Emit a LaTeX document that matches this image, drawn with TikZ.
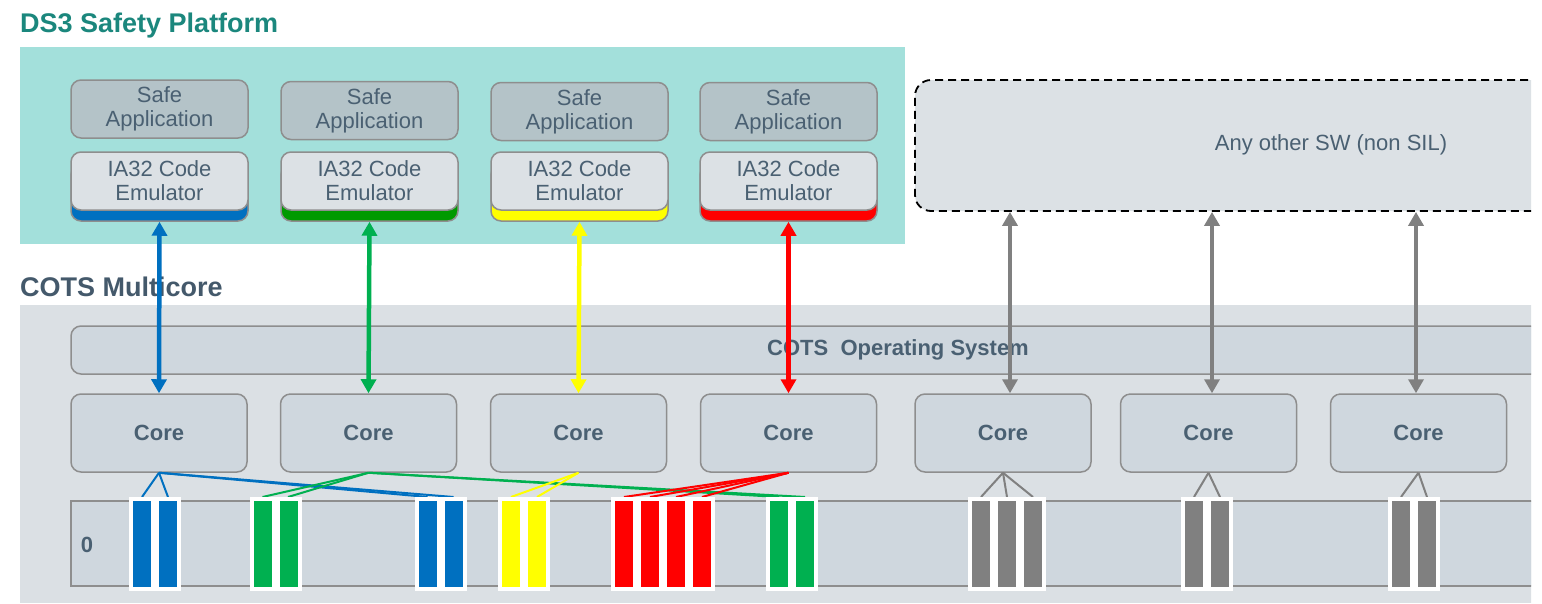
\documentclass[tikz,border=0pt]{standalone}
\usepackage{fontspec}
\setmainfont{Liberation Sans}
\usetikzlibrary{arrows.meta}
\definecolor{tealtitle}{HTML}{1B877D}
\definecolor{slatetitle}{HTML}{44596B}
\definecolor{tealbg}{HTML}{A3E0DB}
\definecolor{safefill}{HTML}{B4C3C8}
\definecolor{emufill}{HTML}{DCE1E5}
\definecolor{graybg}{HTML}{DBE0E4}
\definecolor{corefill}{HTML}{CFD7DE}
\definecolor{boxline}{HTML}{8E8E8E}
\definecolor{txt}{HTML}{4A6072}
\definecolor{cblue}{HTML}{0070C0}
\definecolor{cgreen}{HTML}{00B050}
\definecolor{cdgreen}{HTML}{009A00}
\definecolor{cyellow}{HTML}{FFFF00}
\definecolor{cred}{HTML}{FF0000}
\definecolor{cgray}{HTML}{808080}
\tikzset{
  box/.style={draw=boxline, line width=1.5pt, rounded corners=10pt, inner sep=0pt, text=txt,
    font=\fontsize{22}{24}\selectfont, align=center},
  safebox/.style={box, fill=safefill, minimum width=177pt, minimum height=58pt},
  emubox/.style={box, fill=emufill, minimum width=177pt, minimum height=58pt},
  bandbox/.style={box, minimum width=177pt, minimum height=56pt},
  corebox/.style={box, fill=corefill, minimum width=176pt, minimum height=78pt,
    font=\bfseries\fontsize{22}{24}\selectfont},
  barbox/.style={draw=white, line width=4pt, minimum width=22pt, minimum height=90pt, inner sep=0pt},
  link/.style={line width=2pt},
  biarrow/.style={arrows={Triangle[length=14pt,width=15pt]-Triangle[length=14pt,width=15pt]}, line width=4.5pt},
  title/.style={anchor=base west, font=\bfseries\fontsize{27}{29}\selectfont, inner sep=0pt}
}
\begin{document}
\begin{tikzpicture}[x=1pt,y=-1pt]
\useasboundingbox[fill=white] (0,0) rectangle (1542,603);
\begin{scope}
\clip (0,0) rectangle (1531,603);

% titles
\node[title, text=tealtitle] (t1) at (20,32) {DS3 Safety Platform};
\node[title, text=slatetitle] (t2) at (20,296) {COTS Multicore};

% teal platform
\fill[tealbg] (20,47) rectangle (905,244);

% safe application + emulator stacks
\foreach \i/\x/\y/\c in {1/159.5/109/cblue, 2/369.5/110.5/cdgreen, 3/579.5/111.5/cyellow, 4/788.5/111.5/cred}{
  \node[safebox] (sa\i) at (\x,\y) {Safe\\Application};
  \node[bandbox, fill=\c] (band\i) at (\x,193) {};
  \node[emubox] (em\i) at (\x,181) {IA32 Code\\Emulator};
}

% non-SIL software box
\node[box, fill=emufill, draw=black, line width=1.8pt, dash pattern=on 8pt off 5pt,
  minimum width=785pt, minimum height=131pt, rounded corners=16pt] (other) at (1307.5,145.5) {};
\node[text=txt, font=\fontsize{22}{24}\selectfont] (othertext) at (1331,145) {Any other SW (non SIL)};

% multicore region
\fill[graybg] (20,305) rectangle (1600,603);
\node[box, fill=corefill, minimum width=1629pt, minimum height=48pt] (os) at (885.5,350) {};
\node[text=txt, font=\bfseries\fontsize{22}{24}\selectfont] (ostext) at (898,350) {COTS\ \ Operating System};

% cores
\foreach \i/\x in {1/159, 2/368.5, 3/578.5, 4/788.5, 5/1003, 6/1208.5, 7/1418.5}{
  \node[corebox] (core\i) at (\x,433) {Core};
}

% memory row
\node[draw=boxline, line width=1.5pt, fill=corefill, minimum width=1629pt, minimum height=85pt,
  inner sep=0pt] (mem) at (885.5,543.5) {};
\node[text=txt, font=\bfseries\fontsize{22}{24}\selectfont] (zero) at (87,545) {0};

% links (drawn before bars)
\foreach \n/\x in {b1/142, b2/168, b3/427.5, b4/453.5}{
  \coordinate (\n) at (\x,497);
  \draw[link, cblue] (core1.south) -- (\n);
}
\foreach \n/\x in {g1/262.5, g2/288, g3/779, g4/805}{
  \coordinate (\n) at (\x,497);
  \draw[link, cgreen] (core2.south) -- (\n);
}
\foreach \n/\x in {y1/511, y2/537}{
  \coordinate (\n) at (\x,497);
  \draw[link, cyellow] (core3.south) -- (\n);
}
\foreach \n/\x in {r1/624, r2/650, r3/676, r4/702}{
  \coordinate (\n) at (\x,497);
  \draw[link, cred] (core4.south) -- (\n);
}
\foreach \n/\x/\k in {k1/981/5, k2/1007/5, k3/1033/5, k4/1194/6, k5/1220/6, k6/1401/7, k7/1427/7}{
  \coordinate (\n) at (\x,497);
  \draw[link, cgray] (core\k.south) -- (\n);
}

% bars
\foreach \n/\x/\c in {B1/142/cblue, B2/168/cblue, B3/427.5/cblue, B4/453.5/cblue,
  G1/262.5/cgreen, G2/288.5/cgreen, G3/779/cgreen, G4/805/cgreen,
  Y1/511/cyellow, Y2/537/cyellow,
  R1/624/cred, R2/650/cred, R3/676/cred, R4/702/cred,
  K1/981/cgray, K2/1007/cgray, K3/1033/cgray, K4/1194/cgray, K5/1220/cgray, K6/1401/cgray, K7/1427/cgray}{
  \node[barbox, fill=\c] (\n) at (\x,544) {};
}

% arrows
\draw[biarrow, cblue] (band1.south) -- (core1.north);
\draw[biarrow, cgreen] (band2.south) -- (core2.north);
\draw[biarrow, cyellow] (band3.south) -- (core3.north);
\draw[biarrow, cred] (band4.south) -- (core4.north);
\draw[biarrow, cgray] ([xshift=7pt]core5.north |- other.south) -- ([xshift=7pt]core5.north);
\draw[biarrow, cgray] ([xshift=3.5pt]core6.north |- other.south) -- ([xshift=3.5pt]core6.north);
\draw[biarrow, cgray] ([xshift=-2.5pt]core7.north |- other.south) -- ([xshift=-2.5pt]core7.north);
\end{scope}
\end{tikzpicture}
\end{document}
